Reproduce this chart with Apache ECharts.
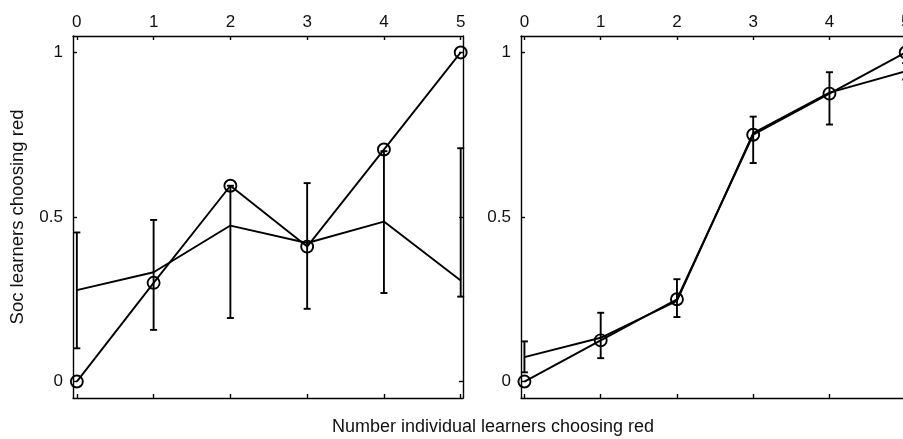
<!DOCTYPE html>
<html>
<head>
<meta charset="utf-8">
<script src="https://cdn.jsdelivr.net/npm/echarts@6/dist/echarts.min.js"></script>
<style>
  html, body { margin: 0; padding: 0; background: #fff; }
  #chart { width: 903px; height: 439px; }
</style>
</head>
<body>
<div id="chart"></div>
<script>
// Number of individual learners choosing red (x positions)
const learnerCounts = [0, 1, 2, 3, 4, 5];
const xTickValues = [0, 1, 2, 3, 4, 5];
const yTickValues = [0, 0.5, 1];

// Left panel: observed proportions (circles) and model mean with interval
const leftObserved = [0.0, 0.30, 0.595, 0.41, 0.705, 1.0];
const leftModel    = [0.278, 0.332, 0.474, 0.421, 0.486, 0.307];
const leftLow      = [0.101, 0.157, 0.193, 0.221, 0.269, 0.258];
const leftHigh     = [0.453, 0.491, 0.595, 0.603, 0.700, 0.709];

// Right panel
const rightObserved = [0.0, 0.125, 0.25, 0.75, 0.875, 1.0];
const rightModel    = [0.074, 0.133, 0.245, 0.755, 0.878, 0.943];
const rightLow      = [0.028, 0.071, 0.196, 0.664, 0.781, 0.918];
const rightHigh     = [0.122, 0.209, 0.311, 0.805, 0.940, 0.968];

const FONT = '"Liberation Sans", Arial, Helvetica, sans-serif';
const INK = '#000';
const TEXT = '#111';
const LW = 1.9;

const pairs = (xs, ys) => xs.map((x, i) => [x, ys[i]]);
const bars = (xs, lo, hi) => xs.map((x, i) => [x, lo[i], hi[i]]);

function errorBarItem(params, api) {
  const x = api.value(0);
  const lo = api.coord([x, api.value(1)]);
  const hi = api.coord([x, api.value(2)]);
  const cap = 3.5;
  const style = { stroke: INK, lineWidth: LW, fill: null };
  return {
    type: 'group',
    children: [
      { type: 'line', shape: { x1: lo[0], y1: lo[1], x2: hi[0], y2: hi[1] }, style },
      { type: 'line', shape: { x1: hi[0] - cap, y1: hi[1], x2: hi[0] + cap, y2: hi[1] }, style },
      { type: 'line', shape: { x1: lo[0] - cap, y1: lo[1], x2: lo[0] + cap, y2: lo[1] }, style }
    ]
  };
}

const axisLine = { show: true, onZero: false, lineStyle: { color: INK, width: 1.4 } };
const tickStyle = (vals) => ({ show: true, inside: true, length: 4, customValues: vals, lineStyle: { color: INK, width: 1.4 } });

function xAxes(gridIndex, min, max) {
  return [
    { type: 'value', gridIndex, position: 'top', min, max,
      axisLine, axisTick: tickStyle(xTickValues), splitLine: { show: false },
      axisLabel: { show: true, customValues: xTickValues, margin: 5, color: TEXT, fontFamily: FONT, fontSize: 17 } },
    { type: 'value', gridIndex, position: 'bottom', min, max,
      axisLine, axisTick: tickStyle(xTickValues), splitLine: { show: false },
      axisLabel: { show: false } }
  ];
}

function yAxes(gridIndex, withName) {
  const main = { type: 'value', gridIndex, position: 'left', min: -0.05, max: 1.05,
    axisLine, axisTick: tickStyle(yTickValues), splitLine: { show: false },
    axisLabel: { show: true, customValues: yTickValues, margin: 10, color: TEXT, fontFamily: FONT, fontSize: 17 } };
  if (withName) {
    Object.assign(main, {
      name: 'Soc learners choosing red', nameLocation: 'middle', nameRotate: 90, nameGap: 46,
      nameTextStyle: { color: TEXT, fontFamily: FONT, fontSize: 18.5 }
    });
  }
  return [
    main,
    { type: 'value', gridIndex, position: 'right', min: -0.05, max: 1.05,
      axisLine, axisTick: tickStyle(yTickValues), splitLine: { show: false },
      axisLabel: { show: false } }
  ];
}

function panelSeries(xIdx, yIdx, observed, model, lo, hi) {
  return [
    { type: 'custom', xAxisIndex: xIdx, yAxisIndex: yIdx, renderItem: errorBarItem,
      data: bars(learnerCounts, lo, hi), z: 2, silent: true },
    { type: 'line', xAxisIndex: xIdx, yAxisIndex: yIdx, data: pairs(learnerCounts, model),
      symbol: 'none', lineStyle: { color: INK, width: LW }, z: 3, silent: true },
    { type: 'line', xAxisIndex: xIdx, yAxisIndex: yIdx, data: pairs(learnerCounts, observed),
      symbol: 'circle', symbolSize: 12, clip: false,
      itemStyle: { color: 'rgba(0,0,0,0)', borderColor: INK, borderWidth: LW },
      lineStyle: { color: INK, width: LW }, z: 4, silent: true }
  ];
}

const chart = echarts.init(document.getElementById('chart'), null, { renderer: 'canvas' });
chart.setOption({
  animation: false,
  backgroundColor: '#fff',
  grid: [
    { left: 73, top: 36, width: 390, height: 362, outerBoundsMode: 'none', containLabel: false },
    { left: 521, top: 36, width: 387, height: 362, outerBoundsMode: 'none', containLabel: false }
  ],
  xAxis: [...xAxes(0, -0.05, 5.03), ...xAxes(1, -0.045, 5.03)],
  yAxis: [...yAxes(0, true), ...yAxes(1, false)],
  series: [
    ...panelSeries(0, 0, leftObserved, leftModel, leftLow, leftHigh),
    ...panelSeries(2, 2, rightObserved, rightModel, rightLow, rightHigh)
  ],
  graphic: [
    { type: 'text', x: 493, y: 427, silent: true,
      style: { text: 'Number individual learners choosing red', fill: TEXT, font: '18px ' + FONT,
               align: 'center', verticalAlign: 'middle' } }
  ]
});
</script>
</body>
</html>
